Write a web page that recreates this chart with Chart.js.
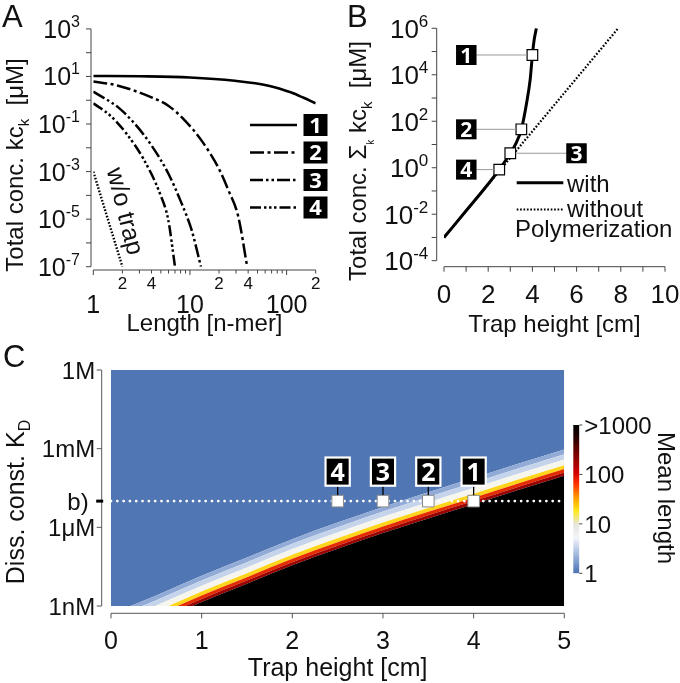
<!DOCTYPE html>
<html><head><meta charset="utf-8">
<script src="https://cdn.jsdelivr.net/npm/chart.js@4.4.1/dist/chart.umd.min.js"></script>
<style>
html,body{margin:0;padding:0;background:#fff;}
#wrap{position:relative;width:680px;height:683px;overflow:hidden;background:#fff;}
canvas{position:absolute;}
</style></head><body>
<div id="wrap">
<canvas id="cA" width="340" height="345" style="left:0;top:0"></canvas>
<canvas id="cB" width="340" height="345" style="left:340px;top:0"></canvas>
<canvas id="cC" width="680" height="343" style="left:0;top:340px"></canvas>
<canvas id="cD" width="120" height="200" style="left:560px;top:400px"></canvas>
</div>
<script>
// ================= DATA =================
// Panel A: total concentration k*c_k vs length (n-mer)
const aLen1 = [1, 3, 10, 29, 65, 112, 148, 200];
const aConc1 = [10.5, 10.2, 9.1, 6.6, 4.1, 2.1, 1.3, 0.74];
const aLen2 = [1, 1.81, 4.0, 5.97, 8.88, 13.2, 19.6, 24.9, 31.6, 39.1];
const aConc2 = [6.2, 4.1, 1.32, 0.59, 0.14, 0.020, 1.5e-3, 1.7e-4, 1.3e-5, 1.0e-7];
const aLen3 = [1, 1.81, 2.7, 4.0, 5.97, 8.2, 10.4, 13.0];
const aConc3 = [2.3, 0.50, 0.10, 0.0126, 8.3e-4, 4.6e-5, 3.5e-6, 1.0e-7];
const aLen4 = [1, 1.49, 2.21, 3.29, 4.89, 5.97, 7.0];
const aConc4 = [0.74, 0.23, 0.039, 3.5e-3, 1.2e-4, 9.1e-6, 1.0e-7];
const aLenNoTrap = [1, 2];
const aConcNoTrap = [1e-3, 1e-7];
const aSeriesLabels = ['1', '2', '3', '4'];
const aYTickExp = [3, 2, 1, 0, -1, -2, -3, -4, -5, -6, -7];
const aYLabelExp = [3, 1, -1, -3, -5, -7];
const aXTicks = [1, 2, 3, 4, 5, 6, 7, 8, 9, 10, 20, 30, 40, 50, 60, 70, 80, 90, 100, 200];
const aXMinorLabelVals = [2, 4, 20, 40, 200];
const aXMinorLabels = ['2', '4', '2', '4', '2'];
const aXMajorVals = [1, 10, 100];
const aXMajorLabels = ['1', '10', '100'];

// Panel B: total concentration vs trap height
const bTrapWith = [0, 1, 2, 2.5, 3, 3.25, 3.5, 3.75, 3.9, 4.0, 4.08, 4.18];
const bConcWith = [1e-3, 1.4e-2, 0.2, 0.83, 4.2, 11, 45, 710, 6300, 7.1e4, 3.2e5, 1e6];
const bTrapWithout = [0, 7.88];
const bConcWithout = [1e-3, 1e6];
const bTrapMarks = [4, 3.5, 3, 2.5];
const bConcMarks = [7.1e4, 45, 4.2, 0.83];
const bMarkLabels = ['1', '2', '3', '4'];
const bYTickExp = [6, 5, 4, 3, 2, 1, 0, -1, -2, -3, -4];
const bYLabelExp = [6, 4, 2, 0, -2, -4];
const bXTicks = [0, 1, 2, 3, 4, 5, 6, 7, 8, 9, 10];
const bXLabelVals = [0, 2, 4, 6, 8, 10];

// Panel C: mean length map; contour lines log10(K_D / M) vs trap height
const cTrap = [0, 0.5, 1, 1.5, 2, 2.5, 3, 3.5, 4, 4.5, 5];
const cKdLen1000 = [-10.3, -9.6, -8.85, -8.15, -7.45, -6.82, -6.22, -5.66, -5.12, -4.57, -4.03];
const cKdLen300 = [-10.18, -9.48, -8.73, -8.03, -7.33, -6.70, -6.10, -5.54, -5.00, -4.45, -3.91];
const cKdLen100 = [-10.05, -9.35, -8.6, -7.9, -7.2, -6.57, -5.97, -5.41, -4.87, -4.32, -3.78];
const cKdLen20 = [-9.9, -9.2, -8.45, -7.75, -7.05, -6.42, -5.82, -5.26, -4.72, -4.17, -3.63];
const cKdLen5 = [-9.68, -8.98, -8.23, -7.53, -6.83, -6.2, -5.6, -5.04, -4.5, -3.95, -3.41];
const cKdLen2 = [-9.48, -8.78, -8.03, -7.33, -6.63, -6.0, -5.4, -4.84, -4.3, -3.75, -3.21];
const cKdLen1 = [-9.3, -8.6, -7.85, -7.15, -6.45, -5.82, -5.22, -4.66, -4.12, -3.57, -3.03];
const cKdB = -5;
const cTrapMarks = [2.5, 3, 3.5, 4];
const cMarkLabels = ['4', '3', '2', '1'];
const cKdTickExp = [0, -3, -5, -6, -9];
const cKdTickLabels = ['1M', '1mM', 'b)', '1\u03BCM', '1nM'];
const cXTicks = [0, 1, 2, 3, 4, 5];
const cbRange = [0, 3];
const cbTickVals = [0, 1, 2, 3];
const cbTickLabels = ['1', '10', '100', '>1000'];

// ================= STYLE HELPERS =================
const FF = '"Liberation Sans", Arial, Helvetica, sans-serif';
const FB = '"Open Sans", "DejaVu Sans", sans-serif';
const BLUE = '#5076b4';
const bandColors = ['#000000', '#9a0000', '#e52b00', '#ffd51c', '#f6f6ef', '#c6d4eb', '#92abd6', BLUE];
const dashA = [[], [14, 3.5, 3, 3.5], [13, 3, 2.5, 3, 2.5, 3], [11, 3, 2.5, 2.5, 2.5, 2.5, 2.5, 3]];
const dotA = [1.6, 1.7];

function pts(xs, ys) { return xs.map((x, i) => ({x: x, y: ys[i]})); }
function seg(ctx, x1, y1, x2, y2) { ctx.beginPath(); ctx.moveTo(x1, y1); ctx.lineTo(x2, y2); ctx.stroke(); }
function rich(ctx, parts, x, y, o) {
  o = o || {};
  ctx.save();
  ctx.translate(x, y);
  if (o.rot) ctx.rotate(o.rot);
  ctx.textAlign = 'left'; ctx.textBaseline = 'alphabetic';
  ctx.fillStyle = o.color || '#111';
  const fnt = p => (p.w || 'normal') + ' ' + p.s + 'px ' + (p.f || FF);
  const ws = parts.map(p => { ctx.font = fnt(p); return ctx.measureText(p.t).width; });
  const W = ws.reduce((a, b) => a + b, 0);
  let cx = o.align === 'right' ? -W : (o.align === 'center' ? -W / 2 : 0);
  const base = 0.36 * parts[0].s;
  parts.forEach((p, i) => { ctx.font = fnt(p); ctx.fillText(p.t, cx, base + (p.dy || 0)); cx += ws[i]; });
  ctx.restore();
}
function numBox(ctx, cx, cy, w, h, label, size, border) {
  if (border) { ctx.fillStyle = '#fff'; ctx.fillRect(cx - w / 2 - border, cy - h / 2 - border, w + 2 * border, h + 2 * border); }
  ctx.fillStyle = '#000'; ctx.fillRect(cx - w / 2, cy - h / 2, w, h);
  ctx.fillStyle = '#fff'; ctx.font = 'bold ' + size + 'px ' + FB;
  ctx.textAlign = 'center'; ctx.textBaseline = 'alphabetic';
  ctx.fillText(label, cx, cy + 0.36 * size);
}
function pow10(e) { return Math.pow(10, e); }
const baseOpts = (pad, scales) => ({
  responsive: false, animation: false, devicePixelRatio: 1,
  layout: {padding: pad},
  plugins: {legend: {display: false}, tooltip: {enabled: false}},
  elements: {point: {radius: 0}},
  scales: scales
});

// ================= PANEL A =================
const plugA = {id: 'plugA', afterDraw(chart) {
  const ctx = chart.ctx, xs = chart.scales.x, ys = chart.scales.y, a = chart.chartArea;
  ctx.save();
  ctx.strokeStyle = '#444'; ctx.lineWidth = 1;
  const axX = a.left - 2.3, axY = a.bottom + 3.3;
  seg(ctx, axX, ys.getPixelForValue(pow10(aYTickExp[0])), axX, ys.getPixelForValue(pow10(aYTickExp[aYTickExp.length - 1])));
  aYTickExp.forEach(e => { const p = ys.getPixelForValue(pow10(e)); seg(ctx, axX - 5, p, axX, p); });
  aYLabelExp.forEach(e => {
    const p = ys.getPixelForValue(pow10(e));
    rich(ctx, [{t: '10', s: 25}, {t: (e < 0 ? '-' : '') + Math.abs(e), s: 16, dy: -11}], axX - 11, p, {align: 'right'});
  });
  seg(ctx, xs.getPixelForValue(1), axY, xs.getPixelForValue(200), axY);
  aXTicks.forEach(v => { const p = xs.getPixelForValue(v); const maj = aXMajorVals.includes(v); seg(ctx, p, axY, p, axY + (maj ? 5 : 3.5)); });
  aXMinorLabelVals.forEach((v, i) => rich(ctx, [{t: aXMinorLabels[i], s: 17}], xs.getPixelForValue(v), axY + 13, {align: 'center'}));
  aXMajorVals.forEach((v, i) => rich(ctx, [{t: aXMajorLabels[i], s: 25}], xs.getPixelForValue(v), axY + 34, {align: 'center'}));
  rich(ctx, [{t: 'Length [n-mer]', s: 24}], (a.left + a.right) / 2, 322, {align: 'center'});
  rich(ctx, [{t: 'Total conc. kc', s: 24}, {t: 'k', s: 15, dy: 6}, {t: '  [\u03BCM]', s: 24}], 14, 165, {align: 'center', rot: -Math.PI / 2});
  rich(ctx, [{t: 'A', s: 31}], 2, 16);
  rich(ctx, [{t: 'w/o trap', s: 25}], 126, 211, {align: 'center', rot: 76 * Math.PI / 180});
  // legend
  const ly = [125, 152.5, 180, 207.5];
  ly.forEach((y, i) => {
    ctx.strokeStyle = '#000'; ctx.lineWidth = 2.6; ctx.setLineDash(dashA[i]);
    seg(ctx, 250, y, 297, y);
    ctx.setLineDash([]);
    numBox(ctx, 315.5, y, 24, 22, aSeriesLabels[i], 22, 0);
  });
  ctx.restore();
}};
const lineDs = (xs, ys, dash, w) => ({data: pts(xs, ys), borderColor: '#000', borderWidth: w || 2.5, borderDash: dash, pointRadius: 0, fill: false, cubicInterpolationMode: 'monotone', showLine: true});
new Chart(document.getElementById('cA'), {
  type: 'line',
  data: {datasets: [
    lineDs(aLen1, aConc1, dashA[0], 2.6),
    lineDs(aLen2, aConc2, dashA[1]),
    lineDs(aLen3, aConc3, dashA[2]),
    lineDs(aLen4, aConc4, dashA[3]),
    lineDs(aLenNoTrap, aConcNoTrap, dotA, 2.4)
  ]},
  options: baseOpts({left: 93.3, right: 24.3, top: 28.9, bottom: 78.3}, {
    x: {type: 'logarithmic', min: 1, max: 200, display: false},
    y: {type: 'logarithmic', min: 1e-7, max: 1e3, display: false}
  }),
  plugins: [plugA]
});

// ================= PANEL B =================
const plugB = {id: 'plugB', afterDraw(chart) {
  const ctx = chart.ctx, xs = chart.scales.x, ys = chart.scales.y, a = chart.chartArea;
  ctx.save();
  ctx.strokeStyle = '#444'; ctx.lineWidth = 1;
  const axX = a.left - 7.3, axY = a.bottom + 6;
  seg(ctx, axX, ys.getPixelForValue(pow10(bYTickExp[0])), axX, ys.getPixelForValue(pow10(bYTickExp[bYTickExp.length - 1])));
  bYTickExp.forEach(e => { const p = ys.getPixelForValue(pow10(e)); seg(ctx, axX - 5, p, axX, p); });
  bYLabelExp.forEach(e => {
    const p = ys.getPixelForValue(pow10(e));
    rich(ctx, [{t: '10', s: 26}, {t: (e < 0 ? '-' : '') + Math.abs(e), s: 17, dy: -11}], axX - 8.4, p, {align: 'right'});
  });
  seg(ctx, xs.getPixelForValue(0), axY, xs.getPixelForValue(10), axY);
  bXTicks.forEach(v => { const p = xs.getPixelForValue(v); seg(ctx, p, axY, p, axY + 5); });
  bXLabelVals.forEach(v => rich(ctx, [{t: String(v), s: 26}], xs.getPixelForValue(v), 294, {align: 'center'}));
  rich(ctx, [{t: 'Trap height [cm]', s: 24}], (a.left + a.right) / 2, 323, {align: 'center'});
  rich(ctx, [{t: 'Total conc. \u03A3', s: 24}, {t: 'k', s: 10, dy: 8}, {t: ' kc', s: 24}, {t: 'k', s: 15, dy: 6}, {t: '  [\u03BCM]', s: 24}], 17, 161, {align: 'center', rot: -Math.PI / 2});
  rich(ctx, [{t: 'B', s: 31}], 7, 16);
  // connectors and number boxes
  ctx.strokeStyle = '#9a9a9a'; ctx.lineWidth = 1;
  bTrapMarks.forEach((h, i) => {
    const px = xs.getPixelForValue(h), py = ys.getPixelForValue(bConcMarks[i]);
    const right = bMarkLabels[i] === '3';
    const bx = right ? 236.5 : 126.3;
    ctx.strokeStyle = '#9a9a9a';
    if (right) seg(ctx, px + 5.5, py, bx - 10, py); else seg(ctx, bx + 10, py, px - 5.5, py);
    numBox(ctx, bx, py, 20.5, 20, bMarkLabels[i], 21, 0);
  });
  // legend
  ctx.strokeStyle = '#000'; ctx.lineWidth = 3; ctx.setLineDash([]);
  seg(ctx, 176.7, 182.7, 223.3, 182.7);
  ctx.lineWidth = 2.2; ctx.setLineDash([1.7, 1.7]);
  seg(ctx, 176.7, 209.5, 223.3, 209.5);
  ctx.setLineDash([]);
  rich(ctx, [{t: 'with', s: 24}], 227, 183);
  rich(ctx, [{t: 'without', s: 24}], 227, 208);
  rich(ctx, [{t: 'Polymerization', s: 24}], 175, 228);
  ctx.restore();
}};
new Chart(document.getElementById('cB'), {
  type: 'line',
  data: {datasets: [
    {data: pts(bTrapMarks, bConcMarks), showLine: false, pointStyle: 'rect', pointRadius: 7.5, pointBackgroundColor: '#fff', pointBorderColor: '#000', pointBorderWidth: 1.2, order: 0},
    Object.assign(lineDs(bTrapWithout, bConcWithout, [1.7, 1.8], 2.2), {cubicInterpolationMode: 'default', tension: 0, order: 2}),
    Object.assign(lineDs(bTrapWith, bConcWith, [], 3), {order: 1})
  ]},
  options: baseOpts({left: 104, right: 15, top: 28.3, bottom: 84.3}, {
    x: {type: 'linear', min: 0, max: 10, display: false},
    y: {type: 'logarithmic', min: 1e-4, max: 1e6, display: false}
  }),
  plugins: [plugB]
});

// ================= PANEL C =================
const plugC = {id: 'plugC', afterDraw(chart) {
  const ctx = chart.ctx, xs = chart.scales.x, ys = chart.scales.y, a = chart.chartArea;
  ctx.save();
  ctx.strokeStyle = '#555'; ctx.lineWidth = 1;
  const axX = a.left - 9.3, axY = a.bottom + 7.3;
  seg(ctx, axX, ys.getPixelForValue(0), axX, ys.getPixelForValue(-9));
  cKdTickExp.forEach((e, i) => {
    const p = ys.getPixelForValue(e);
    if (cKdTickLabels[i] === 'b)') {
      ctx.strokeStyle = '#000'; ctx.lineWidth = 3; seg(ctx, axX - 5.5, p, axX + 1.5, p);
      ctx.strokeStyle = '#555'; ctx.lineWidth = 1;
      rich(ctx, [{t: cKdTickLabels[i], s: 24}], axX - 13, p, {align: 'right'});
    } else {
      seg(ctx, axX - 5, p, axX, p);
      rich(ctx, [{t: cKdTickLabels[i], s: 24}], axX - 6.5, p, {align: 'right'});
    }
  });
  seg(ctx, xs.getPixelForValue(0), axY, xs.getPixelForValue(5), axY);
  cXTicks.forEach(v => { const p = xs.getPixelForValue(v); seg(ctx, p, axY, p, axY + 5); rich(ctx, [{t: String(v), s: 25}], p, 300, {align: 'center'}); });
  rich(ctx, [{t: 'Trap height [cm]', s: 25}], (a.left + a.right) / 2, 327, {align: 'center'});
  rich(ctx, [{t: 'Diss. const. K', s: 25}, {t: 'D', s: 16, dy: 6}], 15, 162, {align: 'center', rot: -Math.PI / 2});
  rich(ctx, [{t: 'C', s: 31}], 3, 16);
  // number boxes above the b) markers
  cTrapMarks.forEach((h, i) => {
    const px = xs.getPixelForValue(h), py = ys.getPixelForValue(cKdB);
    const by = py - 29.5;
    ctx.strokeStyle = '#000'; ctx.lineWidth = 1.3;
    seg(ctx, px, by + 13, px, py - 6);
    numBox(ctx, px, by, 22, 26, cMarkLabels[i], 25, 2.2);
  });
  ctx.restore();
}};
const band = (ys, color, fill) => ({data: pts(cTrap, ys), borderColor: 'transparent', borderWidth: 0, backgroundColor: color, fill: fill, pointRadius: 0, cubicInterpolationMode: 'monotone', order: 10});
new Chart(document.getElementById('cC'), {
  type: 'line',
  data: {datasets: [
    band(cKdLen1000, bandColors[0], 'start'),
    band(cKdLen300, bandColors[1], '-1'),
    band(cKdLen100, bandColors[2], '-1'),
    band(cKdLen20, bandColors[3], '-1'),
    band(cKdLen5, bandColors[4], '-1'),
    band(cKdLen2, bandColors[5], '-1'),
    band(cKdLen1, bandColors[6], '-1'),
    band(cKdLen1, bandColors[7], 'end'),
    {data: pts([0, 5], [cKdB, cKdB]), borderColor: '#fff', borderWidth: 2.8, borderDash: [0.01, 6.3], borderCapStyle: 'round', pointRadius: 0, fill: false, order: 1},
    {data: pts(cTrapMarks, cTrapMarks.map(() => cKdB)), showLine: false, pointStyle: 'rect', pointRadius: 8.2, pointBackgroundColor: '#fff', pointBorderColor: '#8a8a8a', pointBorderWidth: 1, order: 0}
  ]},
  options: baseOpts({left: 111, right: 115.7, top: 30, bottom: 77}, {
    x: {type: 'linear', min: 0, max: 5, display: false},
    y: {type: 'linear', min: -9, max: 0, display: false}
  }),
  plugins: [plugC]
});

// ================= COLOR BAR =================
const plugD = {id: 'plugD', afterDraw(chart) {
  const ctx = chart.ctx, ys = chart.scales.y, a = chart.chartArea;
  ctx.save();
  ctx.strokeStyle = '#444'; ctx.lineWidth = 1;
  cbTickVals.forEach((v, i) => {
    const p = ys.getPixelForValue(v);
    seg(ctx, a.right, p, a.right + 3, p);
    rich(ctx, [{t: cbTickLabels[i], s: 24}], a.right + 5, p);
  });
  rich(ctx, [{t: 'Mean length', s: 24}], 106.7, 98, {align: 'center', rot: Math.PI / 2});
  ctx.restore();
}};
new Chart(document.getElementById('cD'), {
  type: 'bar',
  data: {labels: ['mean length'], datasets: [{
    data: [cbRange],
    borderWidth: 0, barPercentage: 1, categoryPercentage: 1,
    backgroundColor: c => {
      const area = c.chart.chartArea;
      if (!area) return '#000';
      const g = c.chart.ctx.createLinearGradient(0, area.bottom, 0, area.top);
      g.addColorStop(0, '#4a72b2'); g.addColorStop(0.12, '#9db5dc'); g.addColorStop(0.24, '#f2f5fb');
      g.addColorStop(0.33, '#e6e6de'); g.addColorStop(0.42, '#ffe81a'); g.addColorStop(0.5, '#ffa500');
      g.addColorStop(0.6, '#ff3300'); g.addColorStop(0.68, '#d00000'); g.addColorStop(0.82, '#6e0000');
      g.addColorStop(0.93, '#1e0000'); g.addColorStop(1, '#000');
      return g;
    }
  }]},
  options: baseOpts({left: 13.3, right: 100.7, top: 25, bottom: 26.7}, {
    x: {display: false},
    y: {type: 'linear', min: 0, max: 3, display: false}
  }),
  plugins: [plugD]
});
</script>
</body></html>
